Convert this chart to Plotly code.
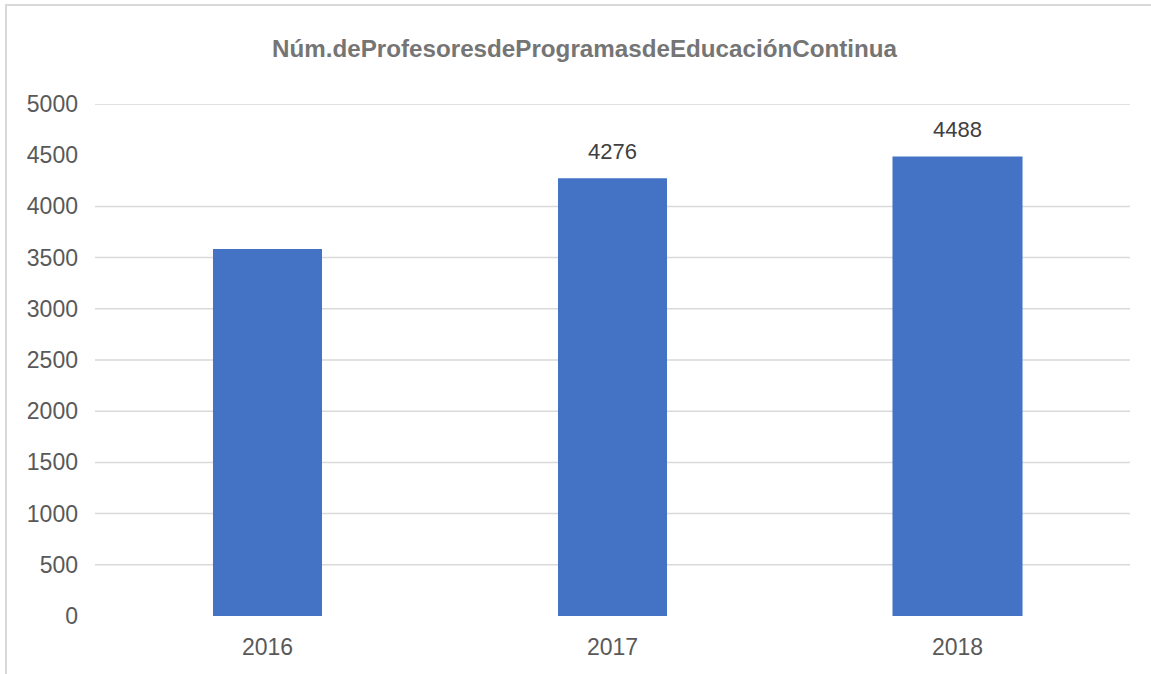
import plotly.graph_objects as go

# Datos
years = ["2016", "2017", "2018"]
teachers = [3585, 4276, 4488]
show_label = [False, True, True]
tick_values = [0, 500, 1000, 1500, 2000, 2500, 3000, 3500, 4000, 4500, 5000]
grid_values = [500, 1000, 1500, 2000, 2500, 3000, 3500, 4000, 5000]

title_text = "Núm.deProfesoresdeProgramasdeEducaciónContinua"

W, H = 1151, 674
margin = dict(l=95, r=21, t=104, b=58)

fig = go.Figure()
fig.add_trace(go.Bar(
    x=list(range(len(years))),
    y=teachers,
    marker=dict(color="#4472C4", line=dict(width=0)),
    width=[0.316, 0.316, 0.377],
    hovertext=years,
    hoverinfo="text+y",
))

# Etiquetas de valor sobre las barras
for i, (val, show) in enumerate(zip(teachers, show_label)):
    if show:
        fig.add_annotation(
            x=i, y=val, text=str(val), showarrow=False,
            xref="x", yref="y", yanchor="bottom", yshift=12,
            font=dict(family="Liberation Sans, Arial, sans-serif", size=22, color="#404040"),
        )

# Líneas de cuadrícula horizontales
for gv in grid_values:
    fig.add_shape(
        type="line", xref="paper", yref="y", x0=0, x1=1, y0=gv, y1=gv,
        line=dict(color="#D9D9D9", width=1.5), layer="below",
    )

# Marco del gráfico (izquierda y arriba)
plot_w = W - margin["l"] - margin["r"]
plot_h = H - margin["t"] - margin["b"]
fig.add_shape(
    type="rect", xref="paper", yref="paper",
    x0=(6 - margin["l"]) / plot_w, x1=(W + 20 - margin["l"]) / plot_w,
    y0=(H - margin["b"] - (H + 20)) / plot_h, y1=(H - margin["b"] - 5) / plot_h,
    line=dict(color="#D9D9D9", width=2), fillcolor="rgba(0,0,0,0)", layer="below",
)

fig.update_layout(
    width=W, height=H,
    margin=margin,
    paper_bgcolor="white",
    plot_bgcolor="white",
    showlegend=False,
    title=dict(
        text=title_text,
        x=584.5 / W, xref="container", xanchor="center",
        y=1 - 49 / H, yref="container", yanchor="middle",
        font=dict(family="Liberation Sans, Arial, sans-serif", size=24.2, color="#757575", weight="bold"),
    ),
    font=dict(family="Liberation Sans, Arial, sans-serif", color="#595959"),
)

fig.update_xaxes(
    range=[-0.5, len(years) - 0.5],
    tickmode="array",
    tickvals=list(range(len(years))),
    ticktext=years,
    showgrid=False, showline=False, zeroline=False,
    ticks="outside", ticklen=10, tickcolor="rgba(0,0,0,0)",
    tickfont=dict(size=23, color="#595959"),
)
fig.update_yaxes(
    range=[0, 5000],
    tickvals=tick_values,
    showgrid=False, showline=False, zeroline=False,
    ticks="", ticklabelstandoff=16,
    tickfont=dict(size=23, color="#595959"),
)

fig.write_html("out.html")
